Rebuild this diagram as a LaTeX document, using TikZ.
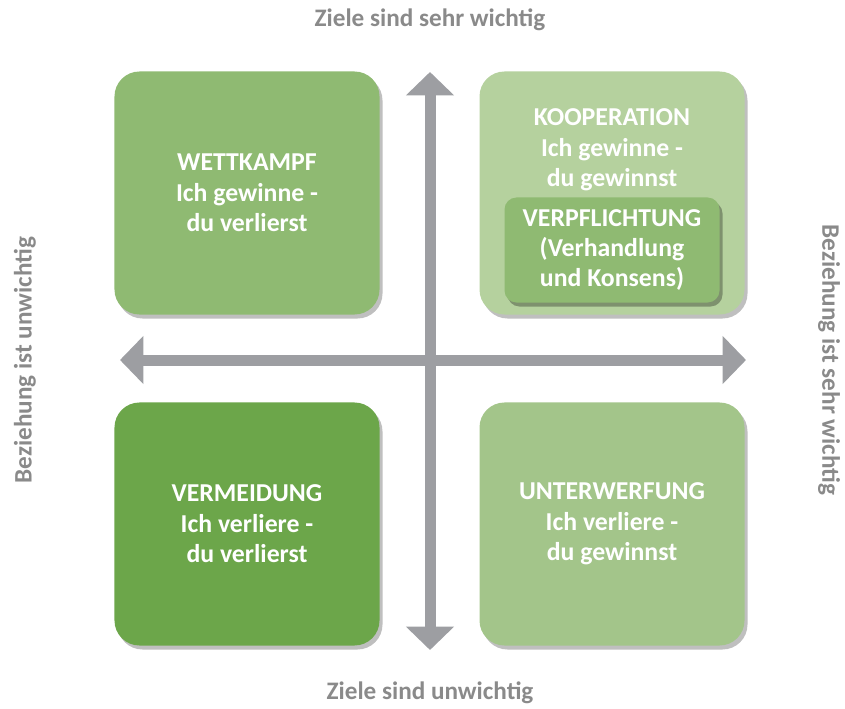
\documentclass[tikz,border=0pt]{standalone}
\usepackage{fontspec}
\setmainfont{Carlito}
\usetikzlibrary{arrows.meta,shadows}

\definecolor{axisgray}{HTML}{9D9EA2}
\definecolor{labelgray}{HTML}{8A8A8A}
\definecolor{midgreen}{HTML}{8FBA72}
\definecolor{palegreen}{HTML}{B5D19E}
\definecolor{softgreen}{HTML}{A3C58A}
\definecolor{darkgreen}{HTML}{6CA64A}

\tikzset{
  boxtext/.style={text=white, align=center, font=\fontsize{22pt}{26pt}\selectfont\bfseries},
  quadrant/.style={boxtext, shape=rectangle, rounded corners=0.75cm, minimum width=7.95cm, minimum height=7.29cm,
    drop shadow={shadow xshift=0.09cm, shadow yshift=-0.12cm, opacity=0.25, fill=black}},
  innerbox/.style={boxtext, shape=rectangle, rounded corners=0.36cm, minimum width=6.45cm, minimum height=3.15cm,
    fill=midgreen, drop shadow={shadow xshift=0.09cm, shadow yshift=-0.12cm, opacity=0.3, fill=black}},
  axislabel/.style={text=labelgray, font=\fontsize{21.5pt}{24pt}\selectfont\bfseries},
  axis/.style={draw=axisgray, line width=0.33cm, {Triangle[width=1.4cm, length=0.7cm]}-{Triangle[width=1.4cm, length=0.7cm]}}
}

\begin{document}
\begin{tikzpicture}[x=0.03cm, y=-0.03cm]
\useasboundingbox (0,0) rectangle (845,709);

% axes
\coordinate (top) at (430,72);
\coordinate (bottom) at (430,650);
\coordinate (left) at (120,360);
\coordinate (right) at (746,360);
\draw[axis] (top) -- (bottom);
\draw[axis] (left) -- (right);

% quadrants
\node[quadrant, fill=midgreen] (wettkampf) at (247,193) {WETTKAMPF\\Ich gewinne -\\du verlierst};
\node[quadrant, fill=palegreen] (kooperation) at (612,193) {};
\node[boxtext] (koop) at (612,150) {KOOPERATION\\Ich gewinne -\\du gewinnst};
\node[innerbox] (verpflichtung) at (612,250) {VERPFLICHTUNG\\(Verhandlung\\und Konsens)};
\node[quadrant, fill=darkgreen] (vermeidung) at (247,524) {VERMEIDUNG\\Ich verliere -\\du verlierst};
\node[quadrant, fill=softgreen] (unterwerfung) at (612,524) {UNTERWERFUNG\\Ich verliere -\\du gewinnst};

% axis labels
\node[axislabel] (goalshigh) at (430,20) {Ziele sind sehr wichtig};
\node[axislabel] (goalslow) at (430,693) {Ziele sind unwichtig};
\node[axislabel, rotate=90] (rellow) at (25,360) {Beziehung ist unwichtig};
\node[axislabel, rotate=-90] (relhigh) at (829,360) {Beziehung ist sehr wichtig};
\end{tikzpicture}
\end{document}
